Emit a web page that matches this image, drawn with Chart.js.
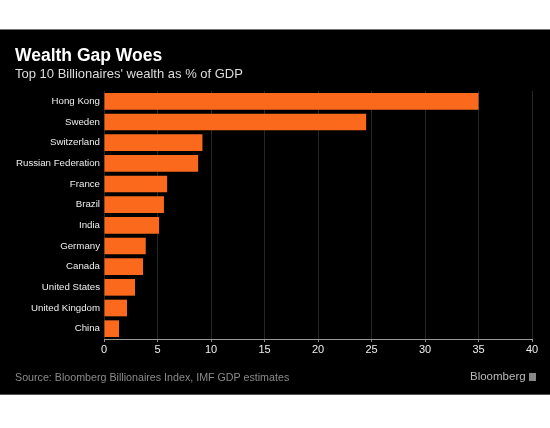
<!DOCTYPE html>
<html><head><meta charset="utf-8">
<script src="https://cdn.jsdelivr.net/npm/chart.js@4.4.0/dist/chart.umd.min.js"></script>
<style>
html,body{margin:0;padding:0;background:#fff;width:550px;height:428px;overflow:hidden;}
#panel{position:absolute;left:0;top:29px;width:550px;height:366px;background:#000;border-top:1px solid #777;border-bottom:1px solid #555;box-sizing:border-box;}
#wrap{position:absolute;left:0;top:0;width:550px;height:366px;}
.t{position:absolute;white-space:nowrap;font-family:"Liberation Sans",Arial,sans-serif;}
#title{left:15px;top:15px;font-size:17.5px;font-weight:bold;color:#fff;}
#sub{left:15px;top:36px;font-size:13px;color:#ddd;}
#src{left:15px;top:341px;font-size:10.7px;color:#8a8a8a;}
#logo{left:470px;top:340px;font-size:11.5px;color:#bbb;}
#sq{position:absolute;left:529px;top:343px;width:7px;height:8px;background:#888;}
</style></head>
<body>
<div id="panel">
<div id="wrap"><canvas id="c" width="550" height="364"></canvas></div>
<div class="t" id="title">Wealth Gap Woes</div>
<div class="t" id="sub">Top 10 Billionaires' wealth as % of GDP</div>
<div class="t" id="src">Source: Bloomberg Billionaires Index, IMF GDP estimates</div>
<div class="t" id="logo">Bloomberg</div>
<div id="sq"></div>
</div>
<script>
const countries = ["Hong Kong","Sweden","Switzerland","Russian Federation","France","Brazil","India","Germany","Canada","United States","United Kingdom","China"];
const wealthPctGdp = [35.0,24.5,9.2,8.8,5.9,5.6,5.15,3.9,3.65,2.9,2.15,1.4];
const xTicks = [0,5,10,15,20,25,30,35,40];

new Chart(document.getElementById('c'), {
  type: 'bar',
  data: { labels: countries, datasets: [{ data: wealthPctGdp, backgroundColor: '#fb6a1c', borderWidth: 0, barPercentage: 0.84, categoryPercentage: 0.96 }] },
  options: {
    indexAxis: 'y',
    responsive: false,
    animation: false,
    events: [],
    layout: { padding: { top: 61, right: 18, left: 0, bottom: 0 } },
    plugins: { legend: { display: false }, tooltip: { enabled: false } },
    scales: {
      x: {
        min: 0, max: 40,
        afterBuildTicks: s => { s.ticks = xTicks.map(v => ({ value: v })); },
        afterFit: s => { s.height = 55; },
        grid: { color: '#262626', lineWidth: 1, drawTicks: true, tickLength: 3, tickColor: '#888' },
        border: { display: true, color: '#999', width: 1 },
        ticks: { color: '#eee', font: { family: 'Liberation Sans', size: 11 }, padding: 1, maxRotation: 0 }
      },
      y: {
        afterFit: s => { s.width = 104; },
        grid: { display: false },
        border: { display: false },
        ticks: { color: '#eee', font: { family: 'Liberation Sans', size: 9.7 }, padding: -4, autoSkip: false }
      }
    }
  }
});
</script>
</body></html>
